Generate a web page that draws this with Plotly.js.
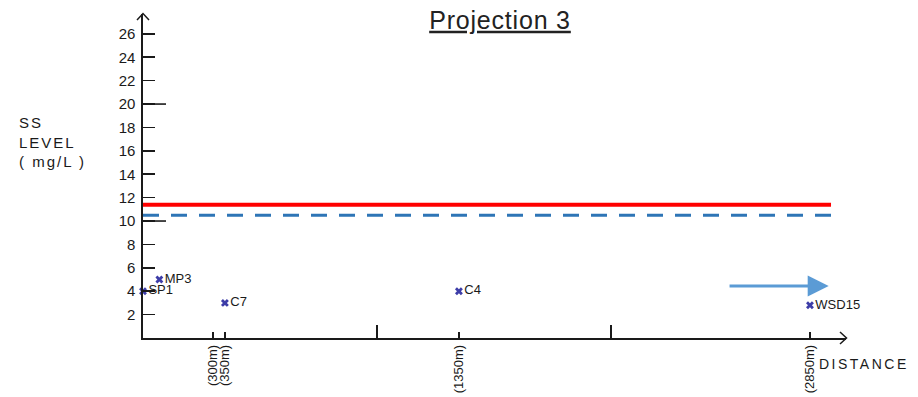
<!DOCTYPE html>
<html>
<head>
<meta charset="utf-8">
<script src="https://cdn.plot.ly/plotly-3.0.1.min.js"></script>
<style>html,body{margin:0;padding:0;background:#fff;}#chart{width:918px;height:397px;}</style>
</head>
<body>
<div id="chart"></div>
<script>
// ---- data ----
const stations = ["SP1", "MP3", "C7", "C4", "WSD15"];
const stationDistance = [0, 70, 350, 1350, 2850];      // m
const ssLevel = [4, 5, 3, 4, 2.8];                      // mg/L
const redLineX = [0, 2940];
const redLineY = [11.4, 11.4];
const blueLineX = [0, 2940];
const blueLineY = [10.5, 10.5];
const flowArrowX = [2500, 2930];
const flowArrowY = [4.45, 4.45];
const xTickVals = [300, 350, 1350, 2850];
const xTickText = ["(300m)", "(350m)", "(1350m)", "(2850m)"];
const xMinorTickVals = [1000, 2000];
const yTickVals = [2, 4, 6, 8, 10, 12, 14, 16, 18, 20, 22, 24, 26];
const yLongTickVals = [10, 20];
const xRange = [0, 3004];
const yRange = [0, 27.7];

// ---- layout helpers (pixel -> paper) ----
const W = 918, H = 397, ML = 143, MR = 72, MT = 14, MB = 59;
const PW = W - ML - MR, PH = H - MT - MB;
const px = x => (x - ML) / PW;
const py = y => (H - MB - y) / PH;

const ink = '#1a1a1a';
const font = 'Liberation Sans, Arial, sans-serif';

const traces = [
  {
    x: redLineX, y: redLineY, mode: 'lines', type: 'scatter',
    line: {color: '#ff0000', width: 4}, hoverinfo: 'skip', showlegend: false
  },
  {
    x: blueLineX, y: blueLineY, mode: 'lines', type: 'scatter',
    line: {color: '#2e75b6', width: 3, dash: '16px,12px'}, hoverinfo: 'skip', showlegend: false
  },
  {
    x: stationDistance, y: ssLevel, text: stations, mode: 'markers+text', type: 'scatter',
    textposition: 'middle right', cliponaxis: false,
    textfont: {family: font, size: 13, color: ink},
    marker: {symbol: 'x', size: 7, color: '#3d3da8', line: {width: 0}},
    showlegend: false
  }
];

const shapes = [];
// long ticks for 10 and 20
yLongTickVals.forEach(v => shapes.push({
  type: 'line', xref: 'paper', yref: 'y', x0: 0, x1: 23 / PW, y0: v, y1: v,
  line: {color: ink, width: 1.6}
}));
// y axis arrow head
shapes.push({type: 'path', xref: 'paper', yref: 'paper',
  path: `M${px(137)},${py(20)} L${px(143)},${py(13.5)} L${px(149)},${py(20)}`,
  line: {color: ink, width: 1.5}});
// x axis arrow head
shapes.push({type: 'path', xref: 'paper', yref: 'paper',
  path: `M${px(840)},${py(332)} L${px(846.5)},${py(338)} L${px(840)},${py(344)}`,
  line: {color: ink, width: 1.5}});

const annotations = [
  {
    xref: 'paper', yref: 'paper', x: px(17), y: py(142), xanchor: 'left', yanchor: 'middle',
    align: 'left', showarrow: false,
    text: '<span style="letter-spacing:2px">SS<br>LEVEL<br>( mg/L )</span>',
    font: {family: font, size: 15, color: ink}
  },
  {
    xref: 'paper', yref: 'paper', x: px(817), y: py(364), xanchor: 'left', yanchor: 'middle',
    showarrow: false,
    text: '<span style="letter-spacing:2.5px">DISTANCE</span>',
    font: {family: font, size: 14, color: ink}
  },
  {
    x: flowArrowX[1], y: flowArrowY[1], ax: flowArrowX[0], ay: flowArrowY[0],
    xref: 'x', yref: 'y', axref: 'x', ayref: 'y', text: '', showarrow: true,
    arrowhead: 2, arrowsize: 1.4, arrowwidth: 3, arrowcolor: '#5b9bd5', standoff: 0
  }
];

const layout = {
  width: W, height: H,
  margin: {l: ML, r: MR, t: MT, b: MB},
  paper_bgcolor: '#fff', plot_bgcolor: '#fff',
  title: {
    text: '<span style="letter-spacing:0.8px">Projection 3</span>',
    xref: 'container', yref: 'container', x: 500 / W, y: 1 - 20 / H,
    xanchor: 'center', yanchor: 'middle',
    font: {family: font, size: 25, color: '#222', lineposition: 'under'}
  },
  xaxis: {
    range: xRange, showgrid: false, zeroline: false,
    showline: true, linecolor: ink, linewidth: 1.6,
    tickmode: 'array', tickvals: xTickVals, ticktext: xTickText,
    ticks: 'inside', ticklen: 6, tickwidth: 1.5, tickcolor: ink,
    tickangle: -90, tickfont: {family: font, size: 13, color: ink},
    minor: {tickmode: 'array', tickvals: xMinorTickVals, ticks: 'inside', ticklen: 13, tickwidth: 1.5, tickcolor: ink, showgrid: false},
    fixedrange: true
  },
  yaxis: {
    range: yRange, showgrid: false, zeroline: false,
    showline: true, linecolor: ink, linewidth: 1.6,
    tickmode: 'array', tickvals: yTickVals,
    ticks: 'inside', ticklen: 12, tickwidth: 1.6, tickcolor: ink,
    tickfont: {family: font, size: 15, color: ink},
    ticklabelstandoff: 3,
    fixedrange: true
  },
  shapes: shapes,
  annotations: annotations,
  showlegend: false
};

Plotly.newPlot('chart', traces, layout, {displayModeBar: false, staticPlot: true});
</script>
</body>
</html>
